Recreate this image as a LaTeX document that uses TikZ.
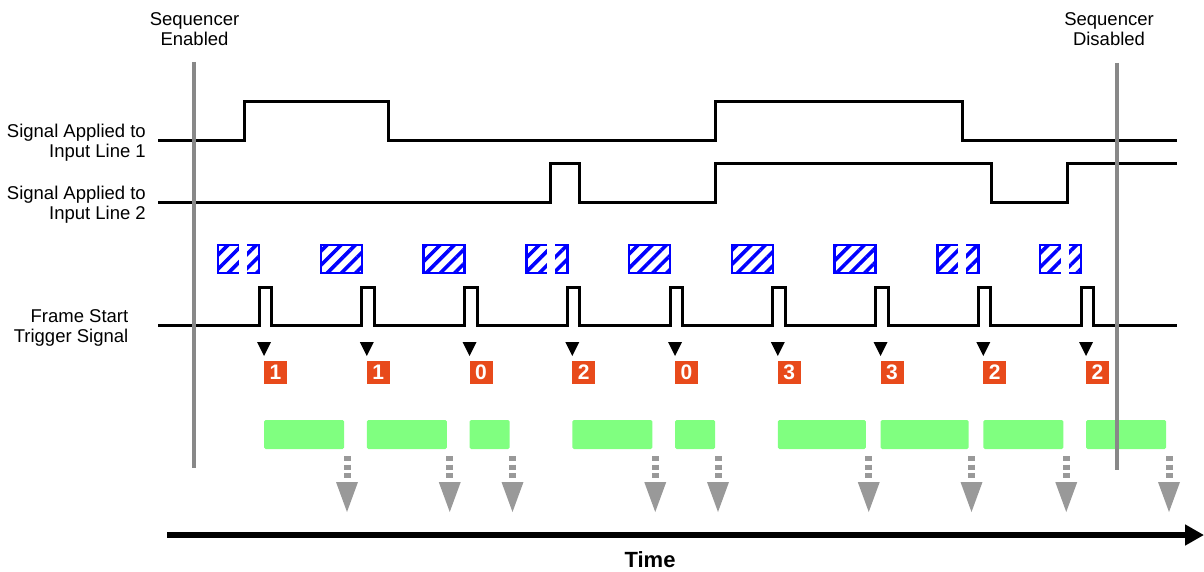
\documentclass[tikz,border=0pt]{standalone}
\usepackage{fontspec}
\setmainfont{Liberation Sans}
\usetikzlibrary{patterns.meta,arrows.meta,calc}
\definecolor{seqgray}{RGB}{136,136,136}
\definecolor{arrgray}{RGB}{153,153,153}
\definecolor{numorange}{RGB}{232,74,27}
\definecolor{framegreen}{RGB}{128,255,128}
\definecolor{hatchblue}{RGB}{0,0,255}
\begin{document}
\begin{tikzpicture}[x=1pt,y=-1pt,
  lbl/.style={font=\fontsize{18.5}{19.5}\selectfont, inner sep=0pt},
  signal/.style={line width=3pt, black},
  seqline/.style={line width=4pt, seqgray},
  hatchbox/.style={draw=hatchblue, line width=2.5pt,
     pattern={Lines[angle=45,distance=10pt,line width=3.6pt]}, pattern color=hatchblue},
  numbox/.style={fill=numorange, text=white, font=\fontsize{21}{21}\bfseries,
     minimum size=23pt, inner sep=0pt, outer sep=0pt},
  framebar/.style={fill=framegreen, rounded corners=1.5pt, minimum height=29pt,
     inner sep=0pt, outer sep=0pt},
  shaft/.style={arrgray, line width=7pt, dash pattern=on 5pt off 3.5pt},
]
\useasboundingbox (0,0) rectangle (1204,572);

% labels
\node[lbl, anchor=center, align=center] (en) at (194.5,29) {Sequencer\\Enabled};
\node[lbl, anchor=center, align=center] (dis) at (1109,29) {Sequencer\\Disabled};
\node[lbl, anchor=east, align=right] (in1) at (146,142.5) {Signal Applied to\\Input Line 1};
\node[lbl, anchor=east, align=right] (in2) at (146,204.5) {Signal Applied to\\Input Line 2};
\node[lbl, anchor=east, align=right] (fst) at (128.5,328) {Frame Start\\Trigger Signal};

% input signals
\draw[signal] (158,141) -| (244,102) -| (388,141) -| (715,102) -| (962,141) -- (1177,141);
\draw[signal] (158,203) -| (550,164) -| (579,203) -| (715,164) -| (991,203) -| (1067,164) -- (1177,164);

% frame start trigger
\draw[signal] (158,325)
  \foreach \i [evaluate=\i as \r using 259+102.75*(\i-1)] in {1,...,9} {
    -- (\r,325) -- (\r,287) -- (\r+12.5,287) -- (\r+12.5,325) }
  -- (1177,325);

\foreach \i/\nn/\L/\s in {1/1/80/1, 2/1/80/0, 3/0/40/0, 4/2/80/1, 5/0/40/0,
                          6/3/88/0, 7/3/88/0, 8/2/80/1, 9/2/80/1} {
  \pgfmathsetmacro{\r}{259+102.75*(\i-1)}
  \path[hatchbox] (\r-41,245) rectangle (\r,273);
  \ifnum\s=1 \fill[white] (\r-20,243) rectangle (\r-12,275); \fi
  \fill[black] (\r-2,342) -- (\r+12,342) -- (\r+5,356) -- cycle;
  \node[numbox, anchor=north west] (n\i) at (\r+5,361) {\nn};
  \node[framebar, minimum width=\L pt, anchor=north west] (b\i) at (\r+5,420) {};
  \coordinate (a\i) at ($(b\i.south east)+(3,0)$);
  \draw[shaft] ($(a\i)+(0,7)$) -- ($(a\i)+(0,30)$);
  \fill[arrgray] ($(a\i)+(-11,33)$) -- ($(a\i)+(11,33)$) -- ($(a\i)+(0,63)$) -- cycle;
}

% sequencer lines
\draw[seqline] (194,62) -- (194,468);
\draw[seqline] (1117,63) -- (1117,470);

% time axis
\coordinate (t0) at (167,535);
\coordinate (t1) at (1204,535);
\draw[line width=6pt, -{Triangle[length=19pt,width=20pt]}] (t0) -- (t1);
\node[font=\fontsize{22}{22}\bfseries, inner sep=0pt] (time) at (650,560) {Time};
\end{tikzpicture}
\end{document}
